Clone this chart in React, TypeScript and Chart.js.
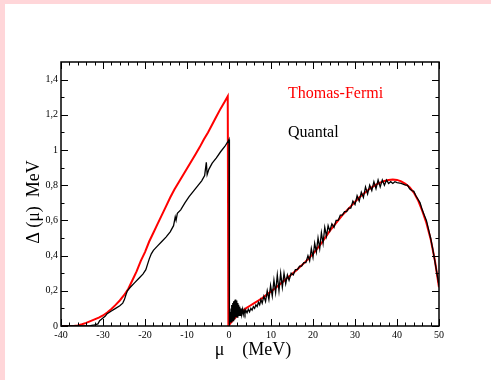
import React, { useEffect, useRef } from "react";
import { Chart, registerables } from "chart.js";

Chart.register(...registerables);

// Tick values
const xMajorTicks = [-40, -30, -20, -10, 0, 10, 20, 30, 40, 50];
const yMajorTicks = [0, 0.2, 0.4, 0.6, 0.8, 1.0, 1.2, 1.4];
const xMinorStep = 2;
const yMinorStep = 0.1;

// Legend labels
const seriesNames = ["Quantal", "Thomas-Fermi"];
const xTitle = "μ    (MeV)";
const yTitle = "Δ (μ)  MeV";

// Thomas-Fermi gap [mu, Delta]
const thomasFermi: [number, number][] = [
  [-40, 0], [-37, 0], [-36, 0.003], [-35, 0.01], [-34, 0.018], [-33, 0.028], [-32, 0.038], [-31, 0.048],
  [-30, 0.06], [-29, 0.077], [-28, 0.097], [-27, 0.12], [-26, 0.145], [-25, 0.175], [-24, 0.21],
  [-23, 0.26], [-22, 0.31], [-21, 0.37], [-20, 0.42], [-19, 0.48], [-18, 0.53], [-17, 0.58],
  [-16, 0.63], [-15, 0.68], [-14, 0.73], [-13, 0.775], [-12, 0.815], [-11, 0.855], [-10, 0.895],
  [-9, 0.935], [-8, 0.975], [-7, 1.015], [-6, 1.06], [-5, 1.1], [-4, 1.145], [-3, 1.19], [-2, 1.235],
  [-1, 1.275], [-0.3, 1.305], [-0.15, 0.0], [0.5, 0.02], [1, 0.035], [2, 0.06], [3, 0.08], [4, 0.1],
  [5, 0.115], [6, 0.13], [7, 0.145], [8, 0.16], [9, 0.178], [10, 0.196], [11, 0.215], [12, 0.235],
  [13, 0.255], [14, 0.275], [15, 0.295], [16, 0.316], [17, 0.338], [18, 0.36], [19, 0.384], [20, 0.41],
  [21, 0.44], [22, 0.47], [23, 0.505], [24, 0.54], [25, 0.57], [26, 0.6], [27, 0.63], [28, 0.655],
  [29, 0.68], [30, 0.705], [31, 0.73], [32, 0.75], [33, 0.77], [34, 0.788], [35, 0.803], [36, 0.815],
  [37, 0.824], [38, 0.83], [39, 0.832], [40, 0.83], [41, 0.822], [42, 0.808], [43, 0.788], [44, 0.758],
  [45, 0.715], [46, 0.655], [47, 0.585], [48, 0.495], [49, 0.375], [50, 0.22],
];

// Quantal gap [mu, Delta]
const quantal: [number, number][] = [
  [-40, 0], [-36, 0], [-33, 0.002], [-32, 0.006], [-31.2, 0.012], [-30.8, 0.03], [-30.3, 0.04],
  [-29.5, 0.055], [-29, 0.07], [-28, 0.085], [-27, 0.1], [-26, 0.115], [-25.3, 0.13], [-24.9, 0.15],
  [-24.5, 0.18], [-24.2, 0.2], [-23.5, 0.22], [-22.5, 0.245], [-21.5, 0.27], [-20.5, 0.295],
  [-19.8, 0.32], [-19.4, 0.35], [-19, 0.38], [-18.5, 0.41], [-18, 0.43], [-17, 0.455], [-16, 0.48],
  [-15, 0.505], [-14, 0.535], [-13.2, 0.57], [-12.8, 0.62], [-12.6, 0.6], [-12.3, 0.64], [-11.5, 0.66],
  [-10.5, 0.7], [-9.5, 0.735], [-8.5, 0.765], [-7.5, 0.795], [-6.5, 0.825], [-5.8, 0.855], [-5.4, 0.93],
  [-5.2, 0.86], [-4.8, 0.89], [-4, 0.925], [-3, 0.955], [-2, 0.99], [-1, 1.02], [-0.2, 1.05], [0, 1.06],
  [0, 0.01],
  [0.1, 0.06], [0.2, 0.01], [0.3, 0.08], [0.4, 0.02], [0.5, 0.1], [0.6, 0.02], [0.7, 0.12], [0.8, 0.03],
  [0.9, 0.13], [1.0, 0.03], [1.1, 0.14], [1.2, 0.04], [1.3, 0.145], [1.4, 0.04], [1.5, 0.15], [1.6, 0.05],
  [1.7, 0.145], [1.8, 0.05], [1.9, 0.14], [2.0, 0.05], [2.1, 0.13], [2.2, 0.06], [2.3, 0.12], [2.4, 0.06],
  [2.55, 0.11], [2.7, 0.06], [2.85, 0.1], [3.0, 0.065], [3.2, 0.095], [3.4, 0.065], [3.6, 0.09], [3.8, 0.07],
  [4.0, 0.09], [4.3, 0.075], [4.6, 0.095], [4.9, 0.08], [5.2, 0.1], [5.5, 0.09], [5.8, 0.11], [6.1, 0.1],
  [6.4, 0.12], [6.7, 0.11], [7.0, 0.135], [7.3, 0.12], [7.6, 0.15], [7.9, 0.13], [8.3, 0.17], [8.7, 0.14],
  [9.1, 0.2], [9.5, 0.15], [9.9, 0.23], [10.3, 0.17], [10.7, 0.26], [11.1, 0.19], [11.5, 0.29], [11.9, 0.2],
  [12.3, 0.3], [12.7, 0.22], [13.1, 0.3], [13.5, 0.24], [13.9, 0.29], [14.3, 0.26], [14.8, 0.3], [15.3, 0.29],
  [15.8, 0.32], [16.3, 0.32], [16.8, 0.34], [17.3, 0.34], [17.8, 0.36], [18.3, 0.36], [18.8, 0.4],
  [19.2, 0.37], [19.6, 0.44], [20, 0.39], [20.4, 0.47], [20.8, 0.42], [21.2, 0.5], [21.6, 0.44],
  [22.0, 0.53], [22.4, 0.47], [22.8, 0.56], [23.2, 0.51], [23.6, 0.57], [24, 0.54], [24.5, 0.58],
  [25, 0.56], [25.5, 0.6], [26, 0.6], [26.5, 0.63], [27, 0.63], [27.5, 0.65], [28, 0.65], [28.5, 0.67],
  [29, 0.67], [29.5, 0.71], [30, 0.69], [30.5, 0.74], [31, 0.71], [31.5, 0.76], [32, 0.73], [32.5, 0.79],
  [33, 0.75], [33.5, 0.8], [34, 0.77], [34.5, 0.82], [35, 0.78], [35.5, 0.83], [36, 0.79], [36.5, 0.83],
  [37, 0.8], [37.5, 0.83], [38, 0.81], [38.5, 0.82], [39, 0.81], [39.5, 0.82], [40, 0.815], [41, 0.81],
  [42, 0.8], [42.5, 0.8], [43, 0.78], [43.5, 0.77], [44, 0.765], [44.5, 0.74], [45, 0.72], [45.5, 0.7],
  [46, 0.66], [46.5, 0.63], [47, 0.6], [47.5, 0.55], [48, 0.5], [48.5, 0.44], [49, 0.37], [49.5, 0.3],
  [50, 0.23],
];

const SERIF = "'Liberation Serif', 'Times New Roman', serif";

const fmtY = (v: number) => {
  if (Math.abs(v) < 1e-9) return "0";
  if (Math.abs(v - 1) < 1e-9) return "1";
  return v.toFixed(1).replace(".", ",");
};

const framePlugin = {
  id: "framePlugin",
  beforeDraw(chart: any) {
    const { ctx, width, height } = chart;
    ctx.save();
    ctx.fillStyle = "#ffffff";
    ctx.fillRect(0, 0, width, height);
    ctx.fillStyle = "rgb(255,214,217)";
    ctx.fillRect(0, 0, 5, height);
    ctx.fillRect(0, 0, width, 4);
    ctx.restore();
  },
  afterDraw(chart: any) {
    const { ctx, chartArea } = chart;
    const { left, right, top, bottom } = chartArea;
    const xs = chart.scales.x;
    const ys = chart.scales.y;
    ctx.save();
    ctx.strokeStyle = "#000";
    ctx.lineWidth = 1;
    const major = 7;
    const minor = 3.5;
    const xMin = xMajorTicks[0];
    const xMax = xMajorTicks[xMajorTicks.length - 1];
    for (let v = xMin; v <= xMax + 1e-9; v += xMinorStep) {
      const isMajor = xMajorTicks.some((t) => Math.abs(t - v) < 1e-9);
      const len = isMajor ? major : minor;
      const px = Math.round(xs.getPixelForValue(v)) + 0.5;
      ctx.beginPath();
      ctx.moveTo(px, bottom);
      ctx.lineTo(px, bottom - len);
      ctx.moveTo(px, top);
      ctx.lineTo(px, top + len);
      ctx.stroke();
    }
    for (let v = 0; v < 1.5 - 1e-9; v += yMinorStep) {
      const isMajor = yMajorTicks.some((t) => Math.abs(t - v) < 1e-6);
      const len = isMajor ? major : minor;
      const py = Math.round(ys.getPixelForValue(v)) + 0.5;
      ctx.beginPath();
      ctx.moveTo(left, py);
      ctx.lineTo(left + len, py);
      ctx.moveTo(right, py);
      ctx.lineTo(right - len, py);
      ctx.stroke();
    }
    ctx.lineWidth = 1.5;
    ctx.strokeRect(left, top, right - left, bottom - top);

    // legend texts
    ctx.font = `16px ${SERIF}`;
    ctx.textAlign = "left";
    ctx.textBaseline = "alphabetic";
    ctx.fillStyle = "#ff0000";
    ctx.fillText(seriesNames[1], 288, 98);
    ctx.fillStyle = "#000000";
    ctx.fillText(seriesNames[0], 288, 137);

    // axis titles
    ctx.font = `18px ${SERIF}`;
    ctx.textAlign = "center";
    ctx.textBaseline = "middle";
    ctx.fillText(xTitle, 253, 350);
    ctx.save();
    ctx.translate(34, 202);
    ctx.rotate(-Math.PI / 2);
    ctx.fillText(yTitle, 0, 0);
    ctx.restore();
    ctx.restore();
  },
};

export default function App() {
  const ref = useRef<HTMLCanvasElement | null>(null);
  useEffect(() => {
    if (!ref.current) return;
    const chart = new Chart(ref.current, {
      type: "line",
      data: {
        datasets: [
          {
            label: seriesNames[0],
            data: quantal.map(([x, y]) => ({ x, y })),
            borderColor: "#000000",
            borderWidth: 1.3,
            pointRadius: 0,
            tension: 0,
            fill: false,
          },
          {
            label: seriesNames[1],
            data: thomasFermi.map(([x, y]) => ({ x, y })),
            borderColor: "#ff0000",
            borderWidth: 2,
            pointRadius: 0,
            tension: 0,
            fill: false,
          },
        ],
      },
      options: {
        animation: false,
        responsive: false,
        devicePixelRatio: 1,
        layout: { padding: { top: 62, right: 52, left: 0, bottom: 0 } },
        plugins: { legend: { display: false }, tooltip: { enabled: false } },
        scales: {
          x: {
            type: "linear",
            min: -40,
            max: 50,
            grid: { display: false, drawTicks: false },
            border: { display: false },
            afterBuildTicks: (s: any) => {
              s.ticks = xMajorTicks.map((v) => ({ value: v }));
            },
            afterFit: (s: any) => {
              s.height = 54;
            },
            ticks: {
              autoSkip: false,
              maxRotation: 0,
              padding: 3,
              color: "#000",
              font: { family: SERIF, size: 10 },
              callback: (v: any) => String(v),
            },
          },
          y: {
            type: "linear",
            min: 0,
            max: 1.5,
            grid: { display: false, drawTicks: false },
            border: { display: false },
            afterBuildTicks: (s: any) => {
              s.ticks = yMajorTicks.map((v) => ({ value: v }));
            },
            afterFit: (s: any) => {
              s.width = 61;
            },
            ticks: {
              autoSkip: false,
              padding: 3,
              color: "#000",
              font: { family: SERIF, size: 10 },
              callback: (v: any) => fmtY(Number(v)),
            },
          },
        },
      },
      plugins: [framePlugin],
    });
    return () => chart.destroy();
  }, []);
  return (
    <div style={{ position: "fixed", left: 0, top: 0, width: 491, height: 380, background: "#fff" }}>
      <canvas ref={ref} width={491} height={380} style={{ display: "block", width: 491, height: 380 }} />
    </div>
  );
}
